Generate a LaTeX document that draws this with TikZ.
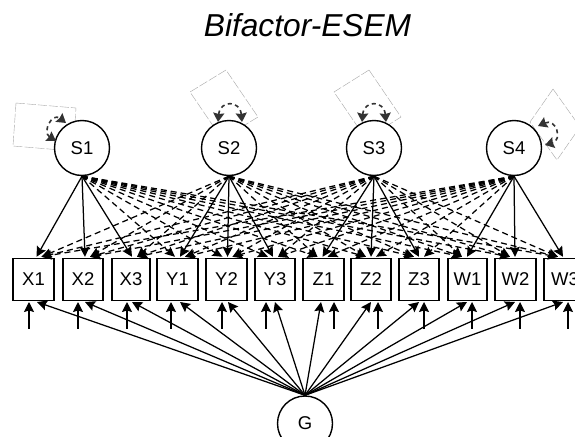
\documentclass[tikz,border=0pt]{standalone}
\usepackage{fontspec}
\setmainfont{Liberation Sans}
\usetikzlibrary{arrows.meta,calc}
\tikzset{
  lat/.style={circle,draw,line width=1.4pt,minimum size=55pt,inner sep=0pt,font=\fontsize{18.5}{18.5}\selectfont,fill=white},
  obs/.style={rectangle,draw,line width=1.4pt,minimum height=42pt,inner sep=0pt,font=\fontsize{18.5}{18.5}\selectfont},
  solidarrow/.style={line width=1.25pt,-{Stealth[length=10pt,width=10pt,inset=1.5pt]}},
  dasharrow/.style={line width=1.25pt,dash pattern=on 6pt off 4pt,-{Stealth[length=10pt,width=9pt,inset=1.5pt]}},
  errarrow/.style={line width=1.25pt,-{Stealth[length=10pt,width=10pt,inset=1.5pt]}},
  loopcurve/.style={line width=1.6pt,black!80,dash pattern=on 4pt off 3.5pt,{Stealth[length=9pt,width=11pt,inset=1pt]}-{Stealth[length=9pt,width=11pt,inset=1pt]}},
  ghost/.style={line width=0.4pt,draw=black!35,dash pattern=on 9pt off 2pt},
}
\begin{document}
\begin{tikzpicture}[x=1pt,y=-1pt]
\useasboundingbox (0,0) rectangle (575,436);
\clip (0,0) rectangle (575,436);
\fill[white] (0,0) rectangle (575,436);
\node[font=\fontsize{31.7}{32}\selectfont\itshape,anchor=base] (title) at (307.5,37) {Bifactor-ESEM};
% faint rotated frames behind the loops
\draw[ghost] (16,103) -- (76,108) -- (73,151) -- (13,146) -- cycle;
\draw[ghost] (226,70) -- (190,92) -- (222,139) -- (258,117) -- cycle;
\draw[ghost] (369,70) -- (334,92) -- (366,139) -- (401,117) -- cycle;
\draw[ghost] (553,89) -- (530,122) -- (557,160) -- (580,127) -- cycle;
% indicators
\foreach \nm/\lft/\rgt in {X1/13/54,X2/63/103,X3/112/150,Y1/157/198,Y2/206/247,Y3/255/295,Z1/303/344,Z2/351/391,Z3/399/439,W1/448/487,W2/495/536,W3/544/586}{
  \pgfmathsetmacro\cenx{(\lft+\rgt)/2}
  \pgfmathsetmacro\boxw{\rgt-\lft}
  \node[obs,minimum width=\boxw pt] (\nm) at (\cenx,279.5) {\nm};
}
% latent factors
\node[lat] (S1) at (82,148) {S1};
\node[lat] (S2) at (229,148) {S2};
\node[lat] (S3) at (374,148) {S3};
\node[lat] (S4) at (514,148) {S4};
\node[lat,text depth=-5pt] (G) at (305,423.5) {G};
% arrival points on the indicators
\foreach \nm/\off in {X1/3,X2/2,X3/1,Y1/2.5,Y2/1,Y3/-2,Z1/-1,Z2/0,Z3/0,W1/-0.5,W2/-0.5,W3/-2}{
  \coordinate (\nm t) at ($(\nm.north)+(\off,-1)$);
}
\foreach \nm/\gpos/\epos in {X1/37/29,X2/85/78,X3/132/127,Y1/180/171,Y2/228/222,Y3/275/266,Z1/321/334,Z2/371/378,Z3/419/424,W1/467/472,W2/515/520,W3/563/568}{
  \coordinate (\nm g) at (\gpos,302);
  \coordinate (\nm e) at (\epos,302);
  \coordinate (\nm f) at (\epos,328.5);
  \draw[errarrow] (\nm f) -- (\nm e);
  \draw[solidarrow] (G.north) -- (\nm g);
}
% dashed cross loadings
\foreach \fac/\tlist in {S1/{Y1,Y2,Y3,Z1,Z2,Z3,W1,W2,W3},S2/{X1,X2,X3,Z1,Z2,Z3,W1,W2,W3},S3/{X1,X2,X3,Y1,Y2,Y3,W1,W2,W3},S4/{X1,X2,X3,Y1,Y2,Y3,Z1,Z2,Z3}}{
  \foreach \tgt in \tlist {
    \draw[dasharrow] let \p1=(\fac.south), \p2=(\tgt t), \n1={\x2>\x1 ? -5 : 5} in
      (\fac.south) -- ($(\tgt t)+(\n1,0)$);
  }
}
% own-factor loadings
\foreach \fac/\tlist in {S1/{X1,X2,X3},S2/{Y1,Y2,Y3},S3/{Z1,Z2,Z3},S4/{W1,W2,W3}}{
  \foreach \tgt in \tlist {
    \draw[solidarrow] (\fac.south) -- (\tgt t);
  }
}
% variance loops
\coordinate (a1) at (56,141); \coordinate (b1) at (66,123);
\coordinate (a2) at (218,122); \coordinate (b2) at (242,122);
\coordinate (a3) at (362,122); \coordinate (b3) at (386,122);
\coordinate (a4) at (538,126); \coordinate (b4) at (545,145);
\draw[loopcurve] (a1) .. controls (42,132) and (52,112) .. (b1);
\draw[loopcurve] (a2) .. controls (220,100) and (240,100) .. (b2);
\draw[loopcurve] (a3) .. controls (364,100) and (384,100) .. (b3);
\draw[loopcurve] (a4) .. controls (556,118) and (563,140) .. (b4);
\end{tikzpicture}
\end{document}
